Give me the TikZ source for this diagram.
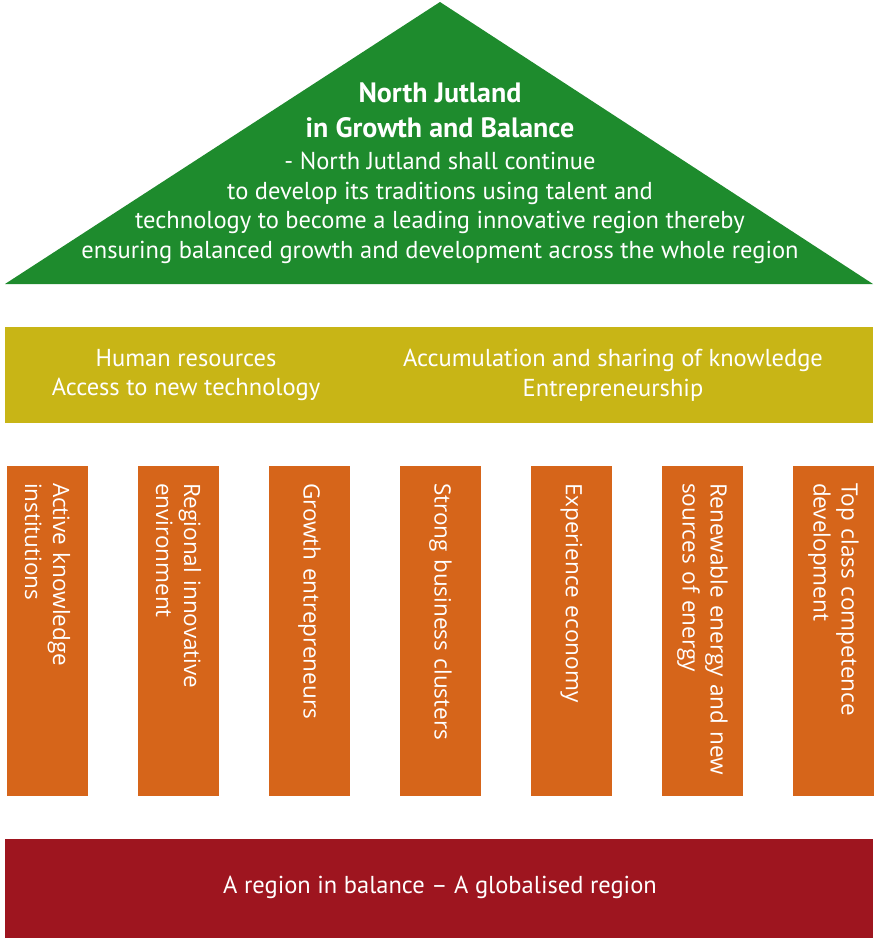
\documentclass[tikz,border=0pt]{standalone}
\usepackage{fontspec}
\setmainfont{PT Sans}
\newfontfamily\pillarfont{Open Sans}

\definecolor{roofgreen}{RGB}{30,139,45}
\definecolor{beamolive}{RGB}{200,181,22}
\definecolor{pillarorange}{RGB}{214,101,26}
\definecolor{basered}{RGB}{158,21,31}

\tikzset{
  band/.style={fill=#1, minimum width=868pt, inner sep=0pt},
  whitetext/.style={text=white, align=center, font=\fontsize{24.5}{29.5}\selectfont},
  pillar/.style={fill=pillarorange, rotate=-90, minimum width=330pt, minimum height=81pt,
    inner xsep=17pt, inner ysep=0pt, text width=296pt, align=left, text=white,
    font=\pillarfont\fontsize{22.5}{28}\selectfont}
}

\begin{document}
\begin{tikzpicture}[x=1pt,y=-1pt]
  \useasboundingbox (0,0) rectangle (877,938);

  % roof
  \fill[roofgreen] (5,284) -- (440,2) -- (873,284) -- cycle;
  \node[whitetext, font=\bfseries\fontsize{28}{35}\selectfont] (title) at (440,110)
    {North Jutland\\in Growth and Balance};
  \node[whitetext] (mission) at (440,208)
    {- North Jutland shall continue\\
     to develop its traditions using talent and\\
     technology to become a leading innovative region thereby\\
     ensuring balanced growth and development across the whole region};

  % beam
  \node[band=beamolive, minimum height=96pt] (beam) at (439,375) {};
  \node[whitetext] (beamleft) at (186,375) {Human resources\\Access to new technology};
  \node[whitetext] (beamright) at (613,375) {Accumulation and sharing of knowledge\\Entrepreneurship};

  % pillars
  \foreach \i/\txt in {0/{Active knowledge\\institutions},
                       1/{Regional innovative\\environment},
                       2/{Growth entrepreneurs},
                       3/{Strong business clusters},
                       4/{Experience economy},
                       5/{Renewable energy and new\\sources of energy},
                       6/{Top class competence\\development}}
    \node[pillar] (p\i) at (47.5+131*\i,631) {\txt};

  % base
  \node[band=basered, minimum height=99pt] (base) at (439,888.5) {};
  \node[whitetext] (basetext) at (440,887) {A region in balance -- A globalised region};
\end{tikzpicture}
\end{document}
